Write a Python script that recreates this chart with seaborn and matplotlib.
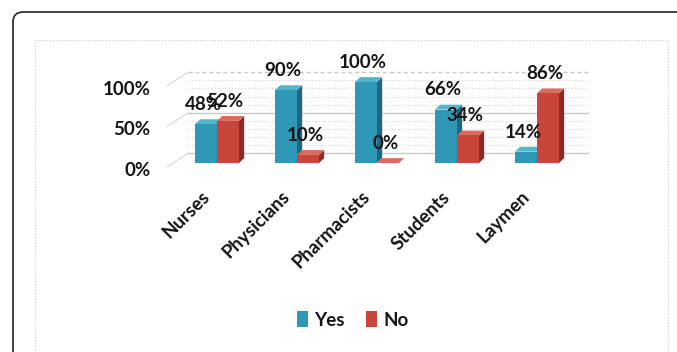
import numpy as np
import pandas as pd
import matplotlib
matplotlib.use("Agg")
import matplotlib.pyplot as plt
import matplotlib.transforms as mtransforms
from matplotlib.patches import Polygon, FancyBboxPatch, Rectangle
import seaborn as sns

# ─────────────────────────────────────────
# DATA
# ─────────────────────────────────────────
groups = ["Nurses", "Physicians", "Pharmacists", "Students", "Laymen"]
yes_pct = [48, 90, 100, 66, 14]
no_pct = [52, 10, 0, 34, 86]
answers = ["Yes", "No"]
y_ticks = [0, 50, 100]
y_tick_labels = ["0%", "50%", "100%"]

df = pd.DataFrame({
    "group": groups * 2,
    "answer": ["Yes"] * len(groups) + ["No"] * len(groups),
    "pct": yes_pct + no_pct,
})

# ─────────────────────────────────────────
# STYLE
# ─────────────────────────────────────────
sns.set_style("white")
plt.rcParams["font.family"] = ["Lato", "DejaVu Sans"]
plt.rcParams["font.weight"] = "bold"

front = {"Yes": "#2f98b6", "No": "#c8453b"}
side = {"Yes": "#1d6880", "No": "#8c2a24"}
top = {"Yes": "#55b4cc", "No": "#dc6a60"}
FS = 13.5
TXT = "#151515"

fig = plt.figure(figsize=(6.77, 3.52), dpi=100)
ax = fig.add_axes([0.2614, 0.5369, 0.5908, 0.2301])

sns.barplot(data=df, x="group", y="pct", hue="answer", hue_order=answers,
            palette=front, saturation=1, width=0.55, ax=ax, zorder=3,
            linewidth=0, edgecolor="none")

ax.set_xlim(-0.5, 4.5)
ax.set_ylim(0, 100)
ax.set_xlabel("")
ax.set_ylabel("")
sns.despine(ax=ax, left=True, bottom=True)

# ─────────────────────────────────────────
# fake 3D: back wall, side wall, bar sides/tops
# ─────────────────────────────────────────
dxb, dyb = 0.14, 12       # back wall offset
dx, dy = 0.065, 6         # bar depth

x0, x1 = ax.get_xlim()
for v in np.arange(10, 100, 10):
    if v not in y_ticks:
        ax.plot([x0 + dxb, x1 + dxb], [v + dyb, v + dyb], ls=(0, (1, 2)),
                color="#e2c9d2", lw=0.8, clip_on=False, zorder=0.5)
for v in y_ticks:
    ls = (0, (3, 2)) if v == 100 else "-"
    ax.plot([x0 + dxb, x1 + dxb], [v + dyb, v + dyb], ls=ls,
            color="#c9c9c9", lw=1, clip_on=False, zorder=0.6)
    ax.plot([x0 - dxb * 0.9, x0 + dxb], [v - dyb * 0.4, v + dyb],
            color="#d8d8d8", lw=0.8, clip_on=False, zorder=0.6)

for k, (cont, ans) in enumerate(zip(ax.containers, answers)):
    for bar in cont:
        bx, bw, bh = bar.get_x(), bar.get_width(), bar.get_height()
        r = bx + bw
        s = Polygon([[r, 0], [r + dx, dy], [r + dx, bh + dy], [r, bh]],
                    closed=True, fc=side[ans], ec="none", zorder=2 + 2 * k,
                    clip_on=False)
        t = Polygon([[bx, bh], [bx + dx, bh + dy], [r + dx, bh + dy], [r, bh]],
                    closed=True, fc=top[ans], ec="none", zorder=2 + 2 * k,
                    clip_on=False)
        ax.add_patch(s)
        ax.add_patch(t)
        bar.set_zorder(3 + 2 * k)
        bar.set_clip_on(False)

# value labels
for k, cont in enumerate(ax.containers):
    vals = yes_pct if k == 0 else no_pct
    texts = ax.bar_label(cont, labels=[f"{v}%" for v in vals], padding=8,
                         fontsize=FS, fontweight="bold", color=TXT,
                         zorder=10)
    for t in texts:
        t.xyann = (-2, t.xyann[1])

# ticks
ax.set_yticks(y_ticks)
ax.set_yticklabels(y_tick_labels, fontsize=FS, fontweight="bold", color=TXT)
ax.tick_params(axis="y", length=0, pad=19)
ax.tick_params(axis="x", length=0, pad=18)
ax.set_xticks(range(len(groups)))
ax.set_xticklabels(groups, rotation=45, ha="right", va="top", fontsize=FS,
                   fontweight="bold", color=TXT)
shift_y = mtransforms.ScaledTranslation(0, -0.055, fig.dpi_scale_trans)
for lab in ax.get_yticklabels():
    lab.set_transform(lab.get_transform() + shift_y)
shift_x = mtransforms.ScaledTranslation(-0.04, 0, fig.dpi_scale_trans)
for lab in ax.get_xticklabels():
    lab.set_transform(lab.get_transform() + shift_x)
ax.grid(False)

# legend
sns.move_legend(ax, "center", bbox_to_anchor=(0.521, 0.091),
                bbox_transform=fig.transFigure, ncol=2, frameon=False,
                title=None, fontsize=FS, handlelength=0.6, handleheight=0.9,
                handletextpad=0.35, columnspacing=1.1)
for t in ax.get_legend().get_texts():
    t.set_fontweight("bold")
    t.set_color(TXT)

# borders
fig.add_artist(FancyBboxPatch((13, -20), 700, 360,
                              boxstyle="round,pad=0,rounding_size=10",
                              transform=mtransforms.IdentityTransform(),
                              fc="none", ec="#333333", lw=1.3))
fig.add_artist(Rectangle((35, -10), 633, 322,
                         transform=mtransforms.IdentityTransform(),
                         fc="none", ec="#cccccc", lw=0.8, ls=":"))

fig.savefig("out.png", dpi=100)
